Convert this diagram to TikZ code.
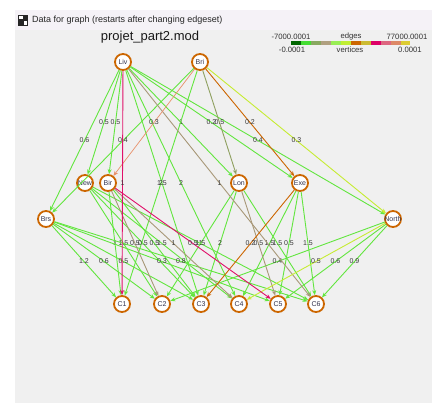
\documentclass[tikz,border=0pt]{standalone}
\usepackage{fontspec}
\setmainfont{Liberation Sans}
\usetikzlibrary{arrows.meta}

\definecolor{panel}{HTML}{F0F0F0}
\definecolor{titlebar}{HTML}{F5F2F7}
\definecolor{ring}{HTML}{CC6600}
\definecolor{townink}{HTML}{33334D}
\definecolor{costink}{HTML}{3A3A3A}
\definecolor{flowzero}{HTML}{62E63E}
\definecolor{flowolive}{HTML}{8FA060}
\definecolor{flowtan}{HTML}{A89878}
\definecolor{flowlime}{HTML}{C6EC32}
\definecolor{floworange}{HTML}{CC6600}
\definecolor{flowred}{HTML}{E0106A}
\definecolor{flowsalmon}{HTML}{E8906A}
% legend scale
\definecolor{scaleA}{HTML}{006600}
\definecolor{scaleB}{HTML}{44DD33}
\definecolor{scaleC}{HTML}{88A860}
\definecolor{scaleD}{HTML}{B0A080}
\definecolor{scaleE}{HTML}{99EE55}
\definecolor{scaleF}{HTML}{C0EE33}
\definecolor{scaleG}{HTML}{CC6600}
\definecolor{scaleH}{HTML}{CCBB33}
\definecolor{scaleI}{HTML}{DD0066}
\definecolor{scaleJ}{HTML}{DD6680}
\definecolor{scaleK}{HTML}{DD8866}
\definecolor{scaleL}{HTML}{DDCC33}

\begin{document}
\begin{tikzpicture}[x=1pt, y=-1pt, >={Stealth[length=5pt,width=4pt]},
  city/.style={draw=ring, circle, line width=1.8pt, fill=white, minimum size=16pt, inner sep=0pt, text=townink, font=\fontsize{7}{8}\selectfont},
  cost/.style={inner sep=0pt, text=costink, font=\fontsize{7}{8}\selectfont},
  arc/.style={->, line width=0.9pt, draw=flowzero},
  legendtext/.style={inner sep=0pt, text=black!80, font=\fontsize{7.7}{9}\selectfont}]

  % Window
  \useasboundingbox (0,0) rectangle (445,406);
  \fill[white] (0,0) rectangle (445,406);
  \fill[titlebar] (15,10) rectangle (432,30);
  \fill[panel] (15,30) rectangle (432,403);
  \fill[black!85] (18,15) rectangle (28,26);
  \fill[white] (19,16) rectangle (23,19);
  \fill[white] (24,21) rectangle (27,25);
  \node[inner sep=0pt, anchor=west, text=black!85, font=\fontsize{9}{11}\selectfont] (caption) at (32,20) {Data for graph (restarts after changing edgeset)};

  % Title and legend
  \node[inner sep=0pt, text=black!90, font=\fontsize{13}{15}\selectfont] (title) at (150,37) {projet\_part2.mod};
  \node[legendtext] (edgemin) at (291,37) {-7000.0001};
  \node[legendtext] (edgelbl) at (351,37) {edges};
  \node[legendtext] (edgemax) at (407,37) {77000.0001};
  \node[legendtext] (vertmin) at (292,49.5) {-0.0001};
  \node[legendtext] (vertlbl) at (350,49.5) {vertices};
  \node[legendtext] (vertmax) at (410,49.5) {0.0001};
  \fill[scaleA] (291,41.5) rectangle (301,45);
  \fill[scaleB] (301,41.5) rectangle (311,45);
  \fill[scaleC] (311,41.5) rectangle (321,45);
  \fill[scaleD] (321,41.5) rectangle (331,45);
  \fill[scaleE] (331,41.5) rectangle (341,45);
  \fill[scaleF] (341,41.5) rectangle (351,45);
  \fill[scaleG] (351,41.5) rectangle (361,45);
  \fill[scaleH] (361,41.5) rectangle (371,45);
  \fill[scaleI] (371,41.5) rectangle (381,45);
  \fill[scaleJ] (381,41.5) rectangle (391,45);
  \fill[scaleK] (391,41.5) rectangle (401,45);
  \fill[scaleL] (401,41.5) rectangle (410,45);

  % Plants
  \node[city] (liv) at (123,62) {Liv};
  \node[city] (bri) at (200,62) {Bri};

  % Depots
  \node[city] (new) at (85,183) {New};
  \node[city] (bir) at (108,183) {Bir};
  \node[city] (lon) at (239,183) {Lon};
  \node[city] (exe) at (300,183) {Exe};
  \node[city] (brs) at (46,219) {Brs};
  \node[city] (north) at (393,219) {\makebox[0pt]{North}};

  % Customers
  \node[city] (c1) at (122,304) {C1};
  \node[city] (c2) at (162,304) {C2};
  \node[city] (c3) at (201,304) {C3};
  \node[city] (c4) at (239,304) {C4};
  \node[city] (c5) at (278,304) {C5};
  \node[city] (c6) at (316,304) {C6};

  % Unused links
  \draw[arc] (liv) -- node[cost] {0.5} (new);
  \draw[arc] (liv) -- node[cost] {0.5} (bir);
  \draw[arc] (liv) -- node[cost] {0.6} (brs);
  \draw[arc] (liv) -- node[cost] {1} (lon);
  \draw[arc] (liv) -- node[cost] {0.2} (exe);
  \draw[arc] (liv) -- node[cost] {0.4} (north);
  \draw[arc] (liv) -- node[cost] {1.5} (c3);
  \draw[arc] (liv) -- node[cost] {2} (c4);
  \draw[arc] (bri) -- node[cost] {0.4} (brs);
  \draw[arc] (bri) -- node[cost] {2} (c1);

  \draw[arc] (new) -- node[cost] {1.5} (c2);
  \draw[arc] (new) -- node[cost] {0.5} (c3);
  \draw[arc] (new) -- node[cost] {1.5} (c4);
  \draw[arc] (new) -- node[cost] {1} (c6);
  \draw[arc] (bir) -- node[cost] {1} (c1);
  \draw[arc] (bir) -- node[cost] {0.5} (c3);
  \draw[arc] (lon) -- node[cost] {1.5} (c2);
  \draw[arc] (lon) -- node[cost] {2} (c3);
  \draw[arc] (lon) -- node[cost] {1.5} (c6);
  \draw[arc] (exe) -- node[cost] {1.5} (c4);
  \draw[arc] (exe) -- node[cost] {0.5} (c5);
  \draw[arc] (exe) -- node[cost] {1.5} (c6);

  \draw[arc] (brs) -- node[cost] {1.2} (c1);
  \draw[arc] (brs) -- node[cost] {0.6} (c2);
  \draw[arc] (brs) -- node[cost] {0.5} (c3);
  \draw[arc] (brs) -- node[cost] {0.3} (c5);
  \draw[arc] (brs) -- node[cost] {0.8} (c6);
  \draw[arc] (north) -- node[cost] {0.4} (c2);
  \draw[arc] (north) -- node[cost] {0.6} (c5);
  \draw[arc] (north) -- node[cost] {0.9} (c6);

  % Links carrying flow
  \draw[arc, draw=flowtan] (liv) -- node[cost] {1} (c6);
  \draw[arc, draw=flowtan] (bir) -- node[cost] {0.5} (c2);
  \draw[arc, draw=flowtan] (bir) -- node[cost] {1} (c4);
  \draw[arc, draw=flowtan] (lon) -- node[cost] {0.5} (c5);
  \draw[arc, draw=flowolive] (bri) -- node[cost] {0.5} (lon);
  \draw[arc, draw=flowsalmon, line width=0.7pt] (bri) -- node[cost] {0.3} (bir);
  \draw[arc, draw=floworange] (bri) -- node[cost] {0.2} (exe);
  \draw[arc, draw=floworange] (exe) -- node[cost] {0.2} (c3);
  \draw[arc, draw=flowlime] (bri) -- node[cost] {0.3} (north);
  \draw[arc, draw=flowlime] (north) -- node[cost] {0.5} (c4);
  \draw[arc, draw=flowred] (liv) -- node[cost] {1} (c1);
  \draw[arc, draw=flowred] (bir) -- node[cost] {0.5} (c5);
\end{tikzpicture}
\end{document}
